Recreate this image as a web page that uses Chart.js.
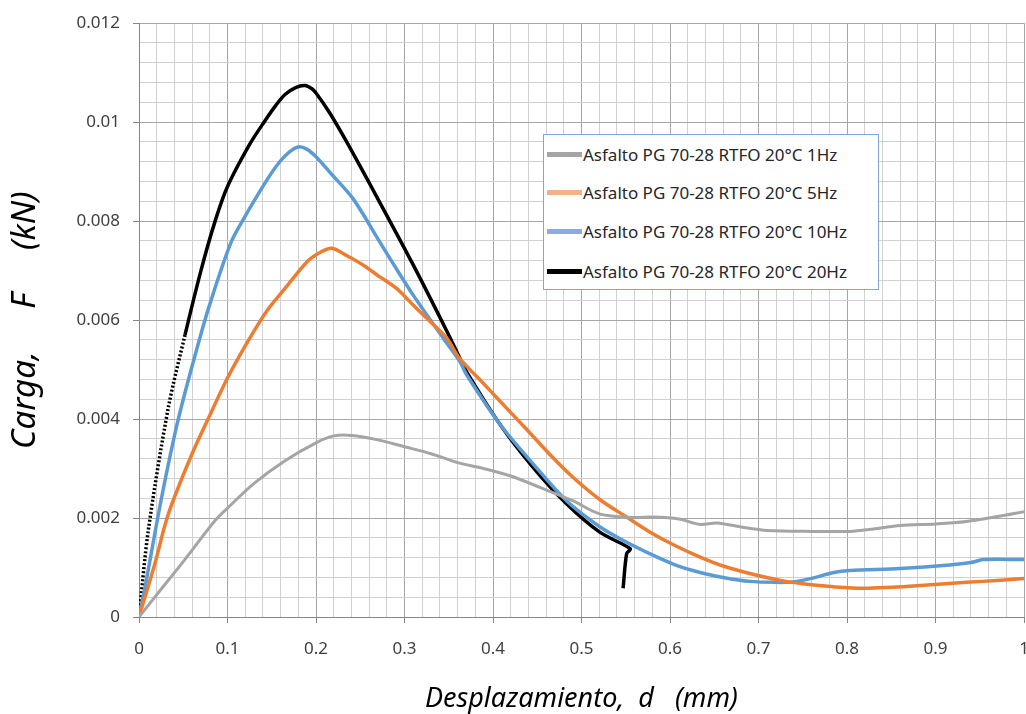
<!DOCTYPE html>
<html>
<head>
<meta charset="utf-8">
<script src="https://cdn.jsdelivr.net/npm/chart.js@4"></script>
<style>
  body { margin: 0; background: #fff; }
  #wrap { position: relative; width: 1026px; height: 714px; }
  #legend {
    position: absolute; left: 543px; top: 134px; width: 334px; height: 154px;
    border: 1px solid #7fa7d6; background: #fff; box-sizing: content-box;
    font-family: 'Noto Sans', sans-serif; font-size: 17px; color: #262626;
  }
  .item { position: absolute; left: 3px; height: 20px; display: flex; align-items: center; white-space: nowrap; }
  .sw { width: 35px; height: 5px; margin-right: 1px; }
</style>
</head>
<body>
<div id="wrap">
  <canvas id="chart" width="1026" height="714"></canvas>
  <div id="legend"></div>
</div>
<script>
// series labels and colours
const seriesLabels = [
  'Asfalto PG 70-28 RTFO 20°C 1Hz',
  'Asfalto PG 70-28 RTFO 20°C 5Hz',
  'Asfalto PG 70-28 RTFO 20°C 10Hz',
  'Asfalto PG 70-28 RTFO 20°C 20Hz'
];
const lineColors = ['#a5a5a5', '#ed7d31', '#5b9bd5', '#000000'];
const legendColors = ['#a5a5a5', '#f4b183', '#8faadc', '#000000'];

// tick labels (majors only, minors are blank)
const xTickLabels = ['0', '0.1', '0.2', '0.3', '0.4', '0.5', '0.6', '0.7', '0.8', '0.9', '1'];
const yTickLabels = ['0', '0.002', '0.004', '0.006', '0.008', '0.01', '0.012'];

// 1Hz  (d in mm, F in kN)
const d1Hz = [0, 0.02, 0.05, 0.086, 0.1, 0.13, 0.165, 0.2, 0.22, 0.24, 0.27, 0.3, 0.33, 0.36, 0.385, 0.42, 0.453, 0.49, 0.521, 0.56, 0.58, 0.61, 0.634, 0.653, 0.68, 0.71, 0.76, 0.803, 0.83, 0.86, 0.9, 0.935, 0.97, 1.0];
const f1Hz = [0, 0.00045, 0.00112, 0.00195, 0.0022, 0.0027, 0.00316, 0.00352, 0.00366, 0.00367, 0.00358, 0.00344, 0.0033, 0.00312, 0.00302, 0.00285, 0.00262, 0.00235, 0.00208, 0.00201, 0.00202, 0.00198, 0.00187, 0.0019, 0.00182, 0.00175, 0.00173, 0.00173, 0.00178, 0.00185, 0.00188, 0.00193, 0.00203, 0.00213];

// 5Hz
const d5Hz = [0, 0.018, 0.03, 0.04, 0.06, 0.078, 0.1, 0.123, 0.145, 0.165, 0.19, 0.205, 0.218, 0.235, 0.2535, 0.27, 0.291, 0.31, 0.329, 0.348, 0.362, 0.385, 0.408, 0.436, 0.464, 0.49, 0.521, 0.55, 0.577, 0.605, 0.634, 0.66, 0.69, 0.728, 0.76, 0.785, 0.818, 0.85, 0.879, 0.935, 0.97, 1.0];
const f5Hz = [0, 0.00108, 0.0019, 0.00242, 0.0033, 0.004, 0.00483, 0.00557, 0.0062, 0.00664, 0.00718, 0.00737, 0.00745, 0.0073, 0.00711, 0.0069, 0.00664, 0.0063, 0.00597, 0.00563, 0.00523, 0.0048, 0.00436, 0.00383, 0.00329, 0.00283, 0.00237, 0.00203, 0.00172, 0.00145, 0.00121, 0.00103, 0.00088, 0.00073, 0.00065, 0.00061, 0.00058, 0.0006, 0.00063, 0.0007, 0.00074, 0.00078];

// 10Hz
const d10Hz = [0, 0.0068, 0.0256, 0.0444, 0.0708, 0.085, 0.1047, 0.12, 0.1348, 0.147, 0.159, 0.17, 0.18, 0.19, 0.2, 0.216, 0.242, 0.272, 0.29, 0.31, 0.344, 0.362, 0.37, 0.408, 0.4455, 0.483, 0.521, 0.55, 0.577, 0.605, 0.634, 0.66, 0.69, 0.72, 0.739, 0.76, 0.785, 0.803, 0.86, 0.916, 0.94, 0.954, 1.0];
const f10Hz = [0, 0.0006, 0.00242, 0.004, 0.00577, 0.0066, 0.0076, 0.0081, 0.00855, 0.0089, 0.0092, 0.0094, 0.0095, 0.00945, 0.0093, 0.00898, 0.00845, 0.00758, 0.00706, 0.0065, 0.00563, 0.00518, 0.0049, 0.00389, 0.00309, 0.00235, 0.00182, 0.00152, 0.00128, 0.00106, 0.0009, 0.0008, 0.00072, 0.0007, 0.00071, 0.00078, 0.0009, 0.00094, 0.00098, 0.00105, 0.0011, 0.00116, 0.00116];

// 20Hz (ends with a short drop)
const d20Hz = [0, 0.0105, 0.0331, 0.052, 0.07, 0.086, 0.1, 0.125, 0.142, 0.155, 0.165, 0.177, 0.1876, 0.195, 0.2, 0.215, 0.235, 0.272, 0.31, 0.348, 0.362, 0.37, 0.408, 0.4455, 0.483, 0.521, 0.555, 0.551, 0.547];
const f20Hz = [0, 0.00175, 0.00423, 0.0057, 0.007, 0.008, 0.0087, 0.00955, 0.01002, 0.01035, 0.01056, 0.0107, 0.01074, 0.01068, 0.01059, 0.0102, 0.00959, 0.00838, 0.00711, 0.00577, 0.00525, 0.00496, 0.00389, 0.00302, 0.00229, 0.00171, 0.00138, 0.00128, 0.00058];

const toPoints = (xs, ys) => xs.map((x, i) => ({ x: x, y: ys[i] }));
const seriesData = [toPoints(d1Hz, f1Hz), toPoints(d5Hz, f5Hz), toPoints(d10Hz, f10Hz), toPoints(d20Hz, f20Hz)];

const majorGrid = '#a6a6a6';
const minorGrid = '#d0d0d0';
const tickFont = { family: 'Noto Sans', size: 17 };

const datasets = seriesData.map((pts, i) => ({
  label: seriesLabels[i],
  data: pts,
  showLine: true,
  borderColor: lineColors[i],
  backgroundColor: lineColors[i],
  borderWidth: i === 0 ? 3 : 3.5,
  pointRadius: 0,
  tension: 0.3,
  segment: i === 3 ? { borderDash: c => c.p0.parsed.x < 0.05 ? [2, 2] : undefined } : undefined
}));

new Chart(document.getElementById('chart').getContext('2d'), {
  type: 'scatter',
  data: { datasets: datasets },
  options: {
    responsive: false,
    animation: false,
    layout: { padding: { top: 20, right: 2, left: 0, bottom: 0 } },
    plugins: { legend: { display: false }, tooltip: { enabled: false } },
    scales: {
      x: {
        type: 'linear', min: 0, max: 1,
        afterFit: s => { s.height = 97; s.paddingLeft = 0; s.paddingRight = 0; },
        ticks: {
          stepSize: 0.02, maxTicksLimit: 100, autoSkip: false, maxRotation: 0,
          padding: 16, color: '#404040', font: tickFont,
          callback: (v, i) => i % 5 === 0 ? xTickLabels[i / 5] : ''
        },
        grid: {
          color: c => c.index % 5 === 0 ? majorGrid : minorGrid,
          tickColor: c => c.index % 5 === 0 ? '#868686' : 'rgba(0,0,0,0)',
          tickLength: 6, lineWidth: 1
        },
        border: { color: '#868686' },
        title: { display: true, text: 'Desplazamiento,  d   (mm)', color: '#000', font: { family: 'Noto Sans', size: 27, style: 'italic' }, padding: { top: 0, bottom: -2 } }
      },
      y: {
        type: 'linear', min: 0, max: 0.012,
        afterFit: s => { s.width = 139; },
        ticks: {
          stepSize: 0.0004, maxTicksLimit: 100, autoSkip: false,
          padding: 13, color: '#404040', font: tickFont,
          callback: (v, i) => i % 5 === 0 ? yTickLabels[i / 5] : ''
        },
        grid: {
          color: c => c.index % 5 === 0 ? majorGrid : minorGrid,
          tickColor: c => c.index % 5 === 0 ? '#868686' : 'rgba(0,0,0,0)',
          tickLength: 6, lineWidth: 1
        },
        border: { color: '#868686' },
        title: { display: true, text: 'Carga,     F     (kN)', color: '#000', font: { family: 'Noto Sans', size: 33, style: 'italic' }, padding: { top: 6, bottom: 0 } }
      }
    }
  }
});

// legend box inside the plot
const legendEl = document.getElementById('legend');
const legendTops = [9, 47, 86, 126];
seriesLabels.forEach((label, i) => {
  const item = document.createElement('div');
  item.className = 'item';
  item.style.top = legendTops[i] + 'px';
  const sw = document.createElement('span');
  sw.className = 'sw';
  sw.style.background = legendColors[i];
  const txt = document.createElement('span');
  txt.textContent = label;
  item.appendChild(sw);
  item.appendChild(txt);
  legendEl.appendChild(item);
});
</script>
</body>
</html>
